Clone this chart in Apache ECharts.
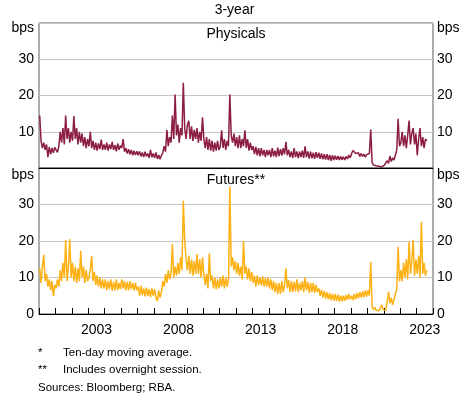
<!DOCTYPE html>
<html>
<head>
<meta charset="utf-8">
<script src="https://cdn.jsdelivr.net/npm/echarts@6/dist/echarts.min.js"></script>
<style>
html,body{margin:0;padding:0;background:#fff;}
#c{width:469px;height:396px;}
</style>
</head>
<body>
<div id="c"></div>
<script>
// Monthly values (mid-month), Jan 2000 onward, bps
const startYear = 2000;
const endYear = 2024;
const physicals = [
  // 2000
  14.5, 7.5, 5.5, 7, 5, 6.5, 3.0, 5.8, 3.8, 5.5, 4.2, 5.7,
  // 2001
  5.0, 4.3, 6.0, 10, 7, 11, 6.5, 14.5, 8, 11, 7, 10,
  // 2002
  7.5, 14.3, 8, 11, 6.5, 10, 7, 9.5, 6, 8.5, 5.5, 8,
  // 2003
  6, 10, 5.5, 7.5, 5, 7, 4.8, 6.8, 5.2, 7.8, 5, 6.5,
  // 2004
  5.0, 7, 4.8, 6.5, 5.2, 7.2, 5, 6.3, 4.6, 6.8, 5, 6.2,
  // 2005
  5.5, 8, 4.5, 5.5, 4, 5.2, 3.8, 5, 3.5, 4.8, 3.6, 4.6,
  // 2006
  3.5, 4.6, 3.2, 4.3, 3, 4.5, 3.2, 4, 2.8, 5, 3, 4,
  // 2007
  2.8, 4.3, 2.5, 3.6, 2.4, 3.5, 4.2, 6, 4.5, 10.5, 6, 8.5,
  // 2008
  7, 14.5, 8, 20.3, 9, 12, 7, 11, 9, 23.5, 11, 8,
  // 2009
  12, 13, 8, 11.5, 7.5, 10.5, 8, 11, 7, 10, 7.5, 14,
  // 2010
  8, 5.5, 8.5, 5, 8, 4.8, 7.5, 4.5, 7, 4.8, 7.5, 5,
  // 2011
  6, 10.4, 5.5, 8, 5, 7.5, 6, 20.3, 9, 7, 9.5, 6,
  // 2012
  8.5, 5.5, 9, 5.5, 8, 6, 10.4, 5.5, 8, 4.8, 7, 5,
  // 2013
  6, 3.8, 5.8, 3.5, 5.5, 3.2, 5.5, 3.5, 5, 3, 5, 3.5,
  // 2014
  5, 3, 5.5, 3.2, 4.8, 3, 5.6, 3.3, 5.2, 3.4, 5.5, 3.8,
  // 2015
  7.2, 3.5, 5, 3, 4.6, 2.8, 5.5, 3, 4.6, 2.7, 4.5, 3,
  // 2016
  4.8, 2.8, 6, 3, 4.6, 2.6, 4.5, 2.7, 4.2, 2.5, 4.4, 2.8,
  // 2017
  4.2, 2.5, 4, 2.4, 3.8, 2.3, 3.8, 2.2, 3.6, 2, 3.5, 2.2,
  // 2018
  3.4, 2.3, 3.3, 2.2, 3.2, 2.3, 3.1, 2.2, 3.2, 2.5, 3.6, 2.8,
  // 2019
  4, 4.8, 5.1, 4, 3.5, 4.2, 3.2, 4, 3.2, 3.8, 3, 3.7,
  // 2020
  3.3, 4, 10.6, 1.5, 0.8, 1.2, 0.6, 1.1, 0.5, 1, 0.3, 0.8,
  // 2021
  0.8, 1.2, 2, 1.3, 3.3, 1.8, 2.8, 2.2, 3.5, 5, 13.6, 6,
  // 2022
  7, 10, 6, 9, 5.5, 9, 13.1, 6.5, 9.5, 11, 6.5, 9.5,
  // 2023
  3.5, 8, 11, 6, 8.5, 5.5, 8, 7.5
];
const futures = [
  // 2000
  12.5, 8.5, 13, 16.2, 9, 11, 7.5, 9.5, 6.5, 9, 4.9, 8,
  // 2001
  7, 9.5, 7.5, 12, 9, 14, 10, 20.3, 9, 13, 20.5, 10,
  // 2002
  14, 9, 13, 8.5, 12.5, 9, 17.3, 10, 13, 8.5, 12, 9,
  // 2003
  10, 12, 15.9, 9, 11.5, 8, 10.5, 7.5, 10, 7, 9.5, 7,
  // 2004
  9.5, 6.5, 9, 6.8, 9.5, 6.3, 8.8, 6.5, 9.5, 6.5, 8.5, 6.8,
  // 2005
  9.5, 7, 9, 6.5, 8.8, 6.5, 9, 6.8, 8.5, 6.5, 8.5, 6.5,
  // 2006
  7.5, 5, 7.8, 5.2, 7, 4.8, 7.2, 5, 6.8, 4.6, 7, 5,
  // 2007
  6.8, 4.5, 3.5, 6.5, 4.5, 6, 9, 7.5, 11, 8.5, 12, 9.5,
  // 2008
  11, 19.2, 10, 13, 10.5, 14, 11, 15.5, 12, 31, 20.3, 15,
  // 2009
  12, 16, 11, 15, 10.5, 14.5, 11, 16.4, 11, 15, 10, 15.5,
  // 2010
  11, 8, 11, 7, 16.6, 9, 10.5, 7, 10, 6.8, 9.5, 7,
  // 2011
  10, 7.5, 10.5, 7, 10, 7.5, 9.5, 34.9, 13, 15.5, 12, 14.5,
  // 2012
  11, 14, 10.5, 13, 9.5, 20, 11, 13, 9.5, 12.5, 9, 11.5,
  // 2013
  8.5, 10.5, 7.5, 10.5, 8, 10, 7.8, 10.3, 7.5, 9.8, 7.5, 10,
  // 2014
  7, 9.5, 6.5, 9, 6, 8.5, 5.5, 8.5, 5.5, 9, 6, 8,
  // 2015
  12.5, 7, 9.3, 6, 9, 6, 8.8, 6.2, 9.5, 6, 8.5, 6.5,
  // 2016
  9, 6, 10, 6.5, 8.8, 5.8, 8.5, 6, 8.5, 5.8, 8, 6,
  // 2017
  7, 5, 6.6, 4.5, 6.3, 4.2, 6, 4, 5.8, 3.8, 5.5, 3.6,
  // 2018
  5.5, 3.6, 5.3, 3.4, 5, 3.5, 5, 3.6, 5.2, 3.9, 5.5, 4,
  // 2019
  5, 3.8, 5.5, 4, 5.8, 4.3, 6, 4.5, 6.2, 4.6, 6.5, 4.8,
  // 2020
  6.5, 5, 14.3, 2, 1.2, 1.8, 1, 1.5, 0.9, 1.6, 2.5, 1.2,
  // 2021
  1.5, 1, 3.5, 6.1, 3, 4.4, 2.5, 4, 3.5, 7, 18.4, 9,
  // 2022
  12, 9, 14, 10, 15, 9.5, 19.8, 11, 14.5, 20.3, 10.5, 15,
  // 2023
  11, 16, 10, 25.2, 11, 14, 10.5, 12
];
const yTicks = [0, 10, 20, 30, 40];
const yearLabels = [2003, 2008, 2013, 2018, 2023];

const toPairs = arr => arr.map((v, i) => [startYear + (i + 0.5) / 12, v]);

const FONT = "'Liberation Sans', Arial, sans-serif";
const chart = echarts.init(document.getElementById('c'), null, {renderer: 'canvas'});

const gridL = 39, gridR = 36;
const plotW = 469 - gridL - gridR;
const halfYearPx = plotW / (endYear - startYear) / 2;
const yCommon = (gi, pos, showSplit, fmt) => ({
  type: 'value', gridIndex: gi, position: pos,
  min: yTicks[0], max: yTicks[yTicks.length - 1], interval: 10,
  axisLine: {show: false}, axisTick: {show: false},
  splitLine: {show: showSplit, lineStyle: {color: '#c6c6c6', width: 1}},
  axisLabel: {color: '#000', fontSize: 14, fontFamily: FONT, margin: pos === 'left' ? 5 : 4, formatter: fmt}
});
const fmtTop = v => (v === 0 || v === 40) ? '' : String(v);
const fmtBot = v => (v === 40) ? '' : String(v);

const option = {
  animation: false,
  backgroundColor: '#fff',
  grid: [
    {left: gridL, right: gridR, top: 23, height: 145, show: true, borderColor: '#5a5a5a', borderWidth: 1},
    {left: gridL, right: gridR, top: 168, height: 146, show: true, borderColor: '#5a5a5a', borderWidth: 1}
  ],
  xAxis: [
    {type: 'value', gridIndex: 0, position: 'bottom', min: startYear, max: endYear, interval: 1,
     axisLine: {show: true, onZero: false, lineStyle: {color: '#000', width: 1}},
     axisTick: {show: false}, axisLabel: {show: false}, splitLine: {show: false}},
    {type: 'value', gridIndex: 1, position: 'bottom', min: startYear, max: endYear, interval: 1,
     axisLine: {show: true, onZero: false, lineStyle: {color: '#000', width: 1}},
     axisTick: {show: true, inside: true, length: 6, lineStyle: {color: '#000', width: 1}},
     splitLine: {show: false},
     axisLabel: {show: true, color: '#000', fontSize: 14, fontFamily: FONT, margin: 9,
       showMinLabel: true, showMaxLabel: true,
       formatter: v => yearLabels.indexOf(Math.round(v)) >= 0 ? '{y|' + Math.round(v) + '}' : '',
       rich: {y: {fontSize: 14, fontFamily: FONT, color: '#000', padding: [0, 0, 0, 2 * halfYearPx]}}}}
  ],
  yAxis: [
    yCommon(0, 'left', true, fmtTop),
    yCommon(0, 'right', false, fmtTop),
    yCommon(1, 'left', true, fmtBot),
    yCommon(1, 'right', false, fmtBot)
  ],
  series: [
    {name: 'Physicals', type: 'line', xAxisIndex: 0, yAxisIndex: 0, data: toPairs(physicals),
     showSymbol: false, symbol: 'none', lineStyle: {color: '#8c1d45', width: 1.5}, z: 3},
    {name: 'Futures', type: 'line', xAxisIndex: 1, yAxisIndex: 2, data: toPairs(futures),
     showSymbol: false, symbol: 'none', lineStyle: {color: '#fdb115', width: 1.5}, z: 3}
  ],
  graphic: [
    {type: 'text', left: 'center', top: 3, style: {text: '3-year', font: '14px ' + FONT, fill: '#000'}},
    {type: 'text', x: 236, y: 34, style: {text: 'Physicals', font: '14px ' + FONT, fill: '#000', textAlign: 'center', textVerticalAlign: 'middle'}},
    {type: 'text', x: 236, y: 180, style: {text: 'Futures**', font: '14px ' + FONT, fill: '#000', textAlign: 'center', textVerticalAlign: 'middle'}},
    {type: 'text', x: 34, y: 28, style: {text: 'bps', font: '14px ' + FONT, fill: '#000', textAlign: 'right', textVerticalAlign: 'middle'}},
    {type: 'text', x: 437, y: 28, style: {text: 'bps', font: '14px ' + FONT, fill: '#000', textAlign: 'left', textVerticalAlign: 'middle'}},
    {type: 'text', x: 34, y: 175, style: {text: 'bps', font: '14px ' + FONT, fill: '#000', textAlign: 'right', textVerticalAlign: 'middle'}},
    {type: 'text', x: 437, y: 175, style: {text: 'bps', font: '14px ' + FONT, fill: '#000', textAlign: 'left', textVerticalAlign: 'middle'}},
    {type: 'text', x: 38, y: 353, style: {text: '*', font: '11.5px ' + FONT, fill: '#000', textVerticalAlign: 'middle'}},
    {type: 'text', x: 63, y: 353, style: {text: 'Ten-day moving average.', font: '11.5px ' + FONT, fill: '#000', textVerticalAlign: 'middle'}},
    {type: 'text', x: 38, y: 370, style: {text: '**', font: '11.5px ' + FONT, fill: '#000', textVerticalAlign: 'middle'}},
    {type: 'text', x: 63, y: 370, style: {text: 'Includes overnight session.', font: '11.5px ' + FONT, fill: '#000', textVerticalAlign: 'middle'}},
    {type: 'text', x: 38, y: 388, style: {text: 'Sources: Bloomberg; RBA.', font: '11.5px ' + FONT, fill: '#000', textVerticalAlign: 'middle'}}
  ]
};
chart.setOption(option);
</script>
</body>
</html>
